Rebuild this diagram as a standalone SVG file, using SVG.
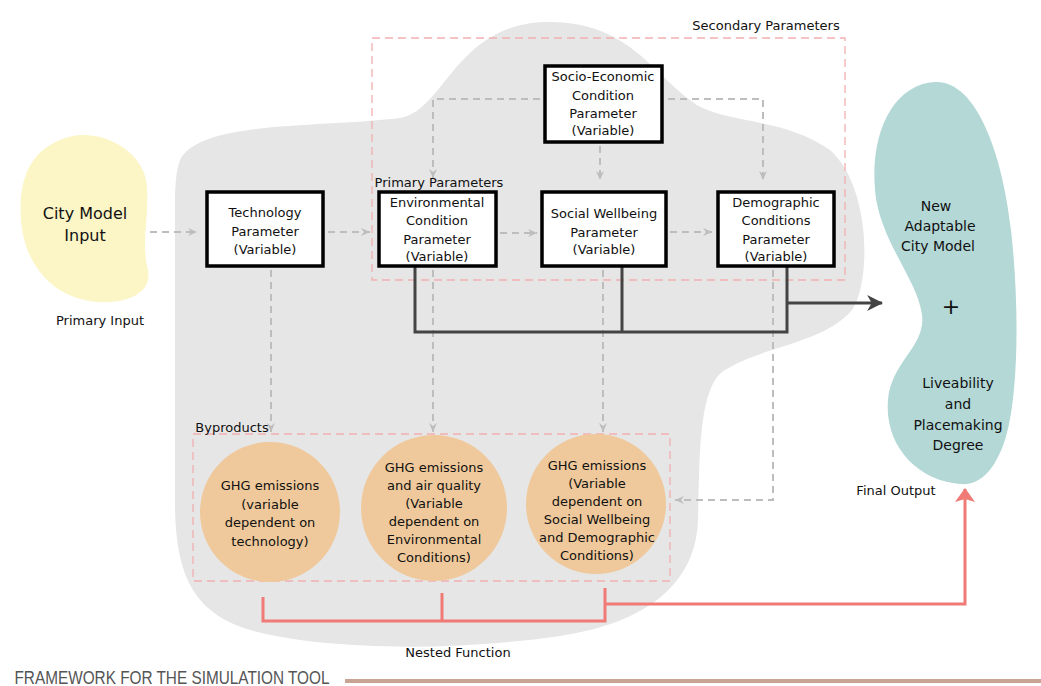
<svg xmlns="http://www.w3.org/2000/svg" width="1041" height="686" viewBox="0 0 1041 686">
<style>
text{font-family:"DejaVu Sans","Liberation Sans",sans-serif;fill:#111;text-anchor:middle}
.t13{font-size:13px}
.t14{font-size:14px}
.t15{font-size:15px}
.lbl{font-size:13px}
.box{fill:#fff;stroke:#000;stroke-width:3.5}
.circ{fill:#efc99b}
.gd{fill:none;stroke:#bdbdbd;stroke-width:2;stroke-dasharray:7 5}
.rd{fill:none;stroke:#f2b0b0;stroke-width:1.3;stroke-dasharray:8 5}
.dk{fill:none;stroke:#444;stroke-width:3}
.rl{fill:none;stroke:#f07a75;stroke-width:3}
</style>
<defs>
<marker id="ga" viewBox="0 0 10 10" refX="9" refY="5" markerWidth="10" markerHeight="10" markerUnits="userSpaceOnUse" orient="auto">
<path d="M0,1 L9,5 L0,9 L3,5 Z" fill="#bdbdbd"/>
</marker>
<marker id="da" viewBox="0 0 14 14" refX="13" refY="7" markerWidth="16" markerHeight="16" markerUnits="userSpaceOnUse" orient="auto">
<path d="M0,0 L14,7 L0,14 L4,7 Z" fill="#444"/>
</marker>
<marker id="ra" viewBox="0 0 14 20" refX="13" refY="10" markerWidth="14" markerHeight="22" markerUnits="userSpaceOnUse" orient="auto">
<path d="M0,0 L14,10 L0,20 L3,10 Z" fill="#f07a75"/>
</marker>
</defs>

<!-- background blobs -->
<path id="blob" fill="#e6e6e6" d="M180,160 C200,120 320,128 400,118 C445,110 455,25 545,22 C625,20 650,70 690,100 C720,125 780,115 830,150 C870,185 872,280 852,310 C822,345 762,345 722,372 C697,392 700,470 698,520 C696,580 652,622 560,636 C450,652 320,650 250,630 C190,612 175,570 175,500 L175,220 C175,190 175,175 180,160 Z"/>
<path fill="#fcf5c6" d="M60,140 C95,124 140,148 146,180 C151,212 140,240 148,270 C153,296 120,306 90,301 C50,295 24,262 21,220 C18,180 30,152 60,140 Z"/>
<path fill="#b3d8d6" d="M935,82 C975,80 1002,150 1011,230 C1020,310 1018,400 1005,440 C995,470 980,486 960,484 C918,481 884,446 888,400 C891,362 926,346 922,315 C918,280 879,240 875,190 C870,130 895,84 935,82 Z"/>

<!-- dashed grouping boxes -->
<rect class="rd" x="372" y="38" width="473" height="242"/>
<rect class="rd" x="193" y="434" width="477" height="147"/>

<!-- labels -->
<text class="lbl" x="766" y="30">Secondary Parameters</text>
<text class="lbl" x="439" y="187">Primary Parameters</text>
<text class="lbl" x="232" y="432">Byproducts</text>
<text class="lbl" x="100" y="325">Primary Input</text>
<text class="lbl" x="896" y="495">Final Output</text>
<text class="lbl" x="458" y="657">Nested Function</text>
<text x="172" y="684" style="font-family:'Liberation Sans',sans-serif;font-size:19px;fill:#555" textLength="315" lengthAdjust="spacingAndGlyphs">FRAMEWORK FOR THE SIMULATION TOOL</text>
<line x1="345" y1="681" x2="1041" y2="681" stroke="#c9a394" stroke-width="4"/>

<!-- connectors -->
<g id="connectors">
<path class="gd" d="M150,232 H197" marker-end="url(#ga)"/>
<path class="gd" d="M328,232 H370" marker-end="url(#ga)"/>
<path class="gd" d="M500,233 H537" marker-end="url(#ga)"/>
<path class="gd" d="M670,232 H712" marker-end="url(#ga)"/>
<path class="gd" d="M540,99 H433 V178" marker-end="url(#ga)"/>
<path class="gd" d="M668,99 H763 V180" marker-end="url(#ga)"/>
<path class="gd" d="M600,146 V180" marker-end="url(#ga)"/>
<path class="gd" d="M271,270 V432" marker-end="url(#ga)"/>
<path class="gd" d="M433,270 V432" marker-end="url(#ga)"/>
<path class="gd" d="M603,270 V432" marker-end="url(#ga)"/>
<path class="gd" d="M773,270 V500 H675" marker-end="url(#ga)"/>
<path class="dk" d="M415,266 V332 H787 V266"/>
<path class="dk" d="M622,266 V332"/>
<path class="dk" d="M787,303 H882" marker-end="url(#da)"/>
<path class="rl" d="M263,597 V621 H605 V588"/>
<path class="rl" d="M442,593 V621"/>
<path class="rl" d="M605,604 H965 V489" marker-end="url(#ra)"/>
</g>

<!-- nodes -->
<g id="city-input">
<text x="85" y="219" style="font-size:16px">City Model</text>
<text x="85" y="241" style="font-size:16px">Input</text>
</g>
<g id="technology">
<rect class="box" x="207" y="192" width="116" height="74"/>
<text class="t13" x="265" y="217">Technology</text>
<text class="t13" x="265" y="236">Parameter</text>
<text class="t13" x="265" y="254">(Variable)</text>
</g>
<g id="environmental">
<rect class="box" x="379" y="192" width="117" height="74"/>
<text class="t13" x="437" y="207">Environmental</text>
<text class="t13" x="437" y="225">Condition</text>
<text class="t13" x="437" y="244">Parameter</text>
<text class="t13" x="437" y="261">(Variable)</text>
</g>
<g id="social">
<rect class="box" x="542" y="192" width="124" height="74"/>
<text class="t13" x="604" y="218">Social Wellbeing</text>
<text class="t13" x="604" y="237">Parameter</text>
<text class="t13" x="604" y="254">(Variable)</text>
</g>
<g id="demographic">
<rect class="box" x="718" y="192" width="116" height="74"/>
<text class="t13" x="776" y="207">Demographic</text>
<text class="t13" x="776" y="225">Conditions</text>
<text class="t13" x="776" y="244">Parameter</text>
<text class="t13" x="776" y="261">(Variable)</text>
</g>
<g id="socio-economic">
<rect class="box" x="545" y="66" width="117" height="76"/>
<text class="t13" x="603" y="81">Socio-Economic</text>
<text class="t13" x="603" y="100">Condition</text>
<text class="t13" x="603" y="118">Parameter</text>
<text class="t13" x="603" y="135">(Variable)</text>
</g>
<g id="ghg-tech">
<circle class="circ" cx="270" cy="512" r="70"/>
<text class="t13" x="270" y="490">GHG emissions</text>
<text class="t13" x="270" y="509">(variable</text>
<text class="t13" x="270" y="527">dependent on</text>
<text class="t13" x="270" y="546">technology)</text>
</g>
<g id="ghg-env">
<circle class="circ" cx="434" cy="508" r="73"/>
<text class="t13" x="434" y="472">GHG emissions</text>
<text class="t13" x="434" y="490">and air quality</text>
<text class="t13" x="434" y="508">(Variable</text>
<text class="t13" x="434" y="526">dependent on</text>
<text class="t13" x="434" y="544">Environmental</text>
<text class="t13" x="434" y="562">Conditions)</text>
</g>
<g id="ghg-social">
<circle class="circ" cx="596" cy="504" r="70"/>
<text class="t13" x="597" y="470">GHG emissions</text>
<text class="t13" x="597" y="488">(Variable</text>
<text class="t13" x="597" y="506">dependent on</text>
<text class="t13" x="597" y="524">Social Wellbeing</text>
<text class="t13" x="597" y="542">and Demographic</text>
<text class="t13" x="597" y="560">Conditions)</text>
</g>
<g id="final-output">
<text class="t14" x="936" y="211">New</text>
<text class="t14" x="940" y="231">Adaptable</text>
<text class="t14" x="938" y="251">City Model</text>
<text x="951" y="314" style="font-size:22px">+</text>
<text class="t14" x="958" y="388">Liveability</text>
<text class="t14" x="958" y="409">and</text>
<text class="t14" x="958" y="430">Placemaking</text>
<text class="t14" x="958" y="450">Degree</text>
</g>
</svg>
